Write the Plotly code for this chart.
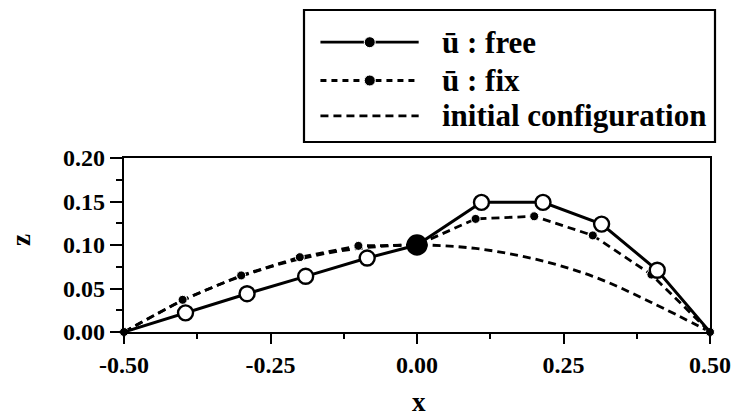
import plotly.graph_objects as go

# ---- data ----
free_x = [-0.5, -0.395, -0.29, -0.19, -0.085, 0.0, 0.11, 0.215, 0.315, 0.41, 0.5]
free_z = [0.0, 0.022, 0.044, 0.064, 0.085, 0.100, 0.149, 0.149, 0.124, 0.071, 0.0]

fix_x = [-0.5, -0.4, -0.3, -0.2, -0.1, 0.0, 0.1, 0.2, 0.3, 0.4, 0.5]
fix_z = [0.0, 0.037, 0.065, 0.086, 0.099, 0.100, 0.130, 0.133, 0.111, 0.066, 0.0]

init_x = [-0.5, -0.4, -0.3, -0.2, -0.1, 0.0, 0.1, 0.2, 0.3, 0.4, 0.5]
init_z = [0.0, 0.036, 0.064, 0.084, 0.096, 0.100, 0.096, 0.084, 0.064, 0.034, 0.0]

x_ticks = [-0.5, -0.25, 0.0, 0.25, 0.5]
x_tick_labels = ["-0.50", "-0.25", "0.00", "0.25", "0.50"]
z_ticks = [0.0, 0.05, 0.10, 0.15, 0.20]
z_tick_labels = ["0.00", "0.05", "0.10", "0.15", "0.20"]

legend_labels = ["\u016b : free", "\u016b : fix", "initial configuration"]
x_title = "x"
z_title = "z"

W, H = 734, 417
FONT = "Liberation Serif"

# plot area in page pixels
L, R, T, B = 124, 710, 158, 332
# legend box in page pixels
LL, LR, LT, LB = 304, 715, 10, 142


def dom_x(a, b):
    return [a / W, b / W]


def dom_y(top, bot):
    return [(H - bot) / H, (H - top) / H]


def px(x):
    return x / W


def py(y):
    return 1 - y / H


fig = go.Figure()

fig.add_trace(go.Scatter(
    x=init_x, y=init_z, mode="lines",
    line=dict(color="black", width=2.8, dash="8px,5px", shape="spline"),
    showlegend=False, cliponaxis=False))

fix_sizes = [9] * len(fix_x)
fix_sizes[5] = 0
fig.add_trace(go.Scatter(
    x=fix_x, y=fix_z, mode="lines+markers",
    line=dict(color="black", width=2.8, dash="8px,5px"),
    marker=dict(color="black", size=fix_sizes, symbol="circle", opacity=1),
    showlegend=False, cliponaxis=False))

free_colors = ["white"] * len(free_x)
free_colors[5] = "black"
free_sizes = [15] * len(free_x)
free_sizes[5] = 19
free_sizes[0] = 0
free_sizes[-1] = 0
fig.add_trace(go.Scatter(
    x=free_x, y=free_z, mode="lines+markers",
    line=dict(color="black", width=3),
    marker=dict(color=free_colors, size=free_sizes, symbol="circle", opacity=1,
                line=dict(color="black", width=2.4)),
    showlegend=False, cliponaxis=False))

# ---- custom legend on a hidden axis ----
row_y = [0.756, 0.466, 0.198]
styles = [dict(dash="solid", marker=True), dict(dash="6px,5px", marker=True), dict(dash="8px,5px", marker=False)]
for ry, st, lab in zip(row_y, styles, legend_labels):
    fig.add_trace(go.Scatter(
        x=[0.04, 0.16, 0.279], y=[ry, ry, ry], xaxis="x2", yaxis="y2",
        mode="lines+markers" if st["marker"] else "lines",
        line=dict(color="black", width=2.8, dash=st["dash"]),
        marker=dict(color="black", size=[0, 11, 0], opacity=1),
        showlegend=False, hoverinfo="skip"))
    fig.add_annotation(x=0.33, y=ry, xref="x2", yref="y2", text=lab, showarrow=False,
                       xanchor="left", yanchor="middle",
                       font=dict(family=FONT, size=31, color="black", weight="bold"))

fig.add_shape(type="rect", xref="x2 domain", yref="y2 domain", x0=0, x1=1, y0=0, y1=1,
              line=dict(color="black", width=2.2))

tick_font = dict(family=FONT, size=24, color="black", weight="bold")
title_font = dict(family=FONT, size=27, color="black", weight="bold")

fig.add_annotation(x=px(419), y=py(402), xref="paper", yref="paper", text=x_title, showarrow=False,
                   xanchor="center", yanchor="middle", font=title_font)
fig.add_annotation(x=px(21), y=py(240), xref="paper", yref="paper", text=z_title, showarrow=False,
                   xanchor="center", yanchor="middle", textangle=-90, font=title_font)

fig.update_layout(
    width=W, height=H,
    margin=dict(l=0, r=0, t=0, b=0),
    paper_bgcolor="white", plot_bgcolor="white",
    showlegend=False,
    xaxis=dict(domain=dom_x(L, R), range=[-0.5, 0.5], tickvals=x_ticks, ticktext=x_tick_labels,
               ticks="outside", ticklen=10, tickwidth=2, tickcolor="black",
               minor=dict(dtick=0.125, tick0=-0.5, ticks="outside", ticklen=5, tickwidth=1.5, tickcolor="black"),
               showline=True, linecolor="black", linewidth=2.2, mirror=True,
               showgrid=False, zeroline=False, tickfont=tick_font, anchor="y", automargin=False),
    yaxis=dict(domain=dom_y(T, B), range=[0, 0.2], tickvals=z_ticks, ticktext=z_tick_labels,
               ticks="outside", ticklen=12, tickwidth=2, tickcolor="black",
               minor=dict(dtick=0.025, tick0=0, ticks="outside", ticklen=6, tickwidth=1.5, tickcolor="black"),
               showline=True, linecolor="black", linewidth=2.2, mirror=True,
               showgrid=False, zeroline=False, tickfont=tick_font, anchor="x", automargin=False),
    xaxis2=dict(domain=dom_x(LL, LR), range=[0, 1], visible=False, anchor="y2", fixedrange=True),
    yaxis2=dict(domain=dom_y(LT, LB), range=[0, 1], visible=False, anchor="x2", fixedrange=True),
)

# remove the default 8px page margin so the figure sits at the window's corner
fig.write_html("out.html", config={"displayModeBar": False},
               post_script="document.body.style.margin='0px';")
